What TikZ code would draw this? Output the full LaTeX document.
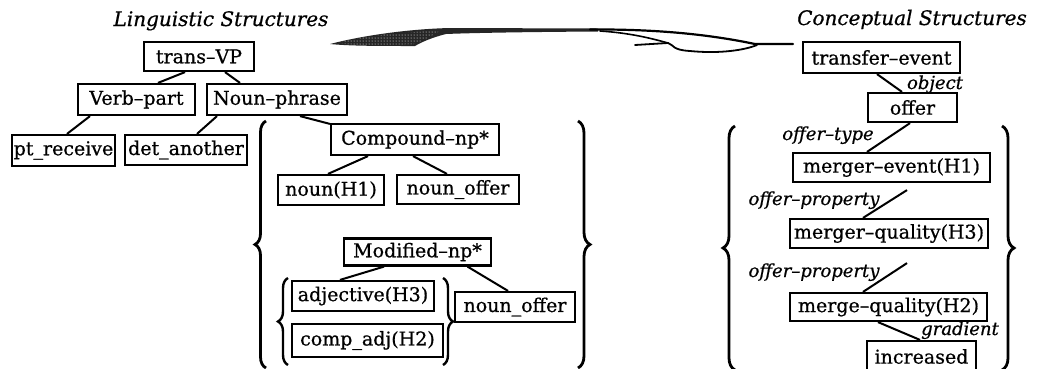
\documentclass[tikz,border=0pt]{standalone}
\usepackage{fontspec}
\setmainfont{DejaVu Serif}[FakeBold=0.7]
\usetikzlibrary{calc,decorations.pathreplacing,patterns}

\tikzset{
  box/.style={draw, line width=2.2pt, inner sep=0pt, anchor=center,
              font=\fontsize{19}{22}\selectfont},
  rel/.style={anchor=base, inner sep=0pt,
              font=\fontsize{18}{21}\selectfont\itshape},
  heading/.style={anchor=base, inner sep=0pt,
              font=\fontsize{20}{24}\selectfont\itshape},
  link/.style={line width=2pt},
  curly/.style={line width=2.8pt, decorate},
}

\begin{document}
\begin{tikzpicture}[x=1pt, y=-1pt]
  \fill[white] (0,0) rectangle (1041,368);
  \useasboundingbox (0,0) rectangle (1041,368);

  % headings
  \node[heading] (lingtitle) at (221,26) {Linguistic Structures};
  \node[heading] (conctitle) at (912,25) {Conceptual Structures};

  % swoosh arrow between the two structures
  \path[fill=black!85] (330,44) .. controls (365,35) and (410,29) .. (450,28)
        -- (598,28.5) -- (598,31.5) .. controls (520,32) and (470,33) .. (446,34)
        .. controls (430,38) and (420,43) .. (415,46)
        .. controls (380,46) and (350,46) .. (330,44) -- cycle;
  \path[pattern=dots, pattern color=white] (335,43) .. controls (365,36) and (400,32) .. (440,31)
        .. controls (430,37) and (420,42) .. (414,44)
        .. controls (380,45) and (350,45) .. (335,43) -- cycle;
  \draw[line width=2.2pt, line cap=round] (590,29.5) .. controls (660,29) and (712,35) .. (755,44) -- (793,44);
  \draw[line width=1.6pt, line cap=round] (600,31) .. controls (630,33) and (650,38) .. (668,43);
  \draw[line width=1.8pt, line cap=round] (635,45) -- (668,43)
        .. controls (674,45) and (672,50) .. (690,51)
        .. controls (720,54) and (745,50) .. (757,45);

  % linguistic structures
  \node[box, minimum width=110pt, minimum height=29pt] (tvp)  at (199,56.5)   {trans–VP};
  \node[box, minimum width=117pt, minimum height=31pt] (vp)   at (136.5,99.5) {Verb–part};
  \node[box, minimum width=140pt, minimum height=31pt] (np)   at (277,99.5)   {Noun–phrase};
  \node[box, minimum width=103pt, minimum height=31pt] (ptr)  at (63.5,150.5) {pt\_receive};
  \node[box, minimum width=122pt, minimum height=30pt] (det)  at (186,150)    {det\_another};
  \node[box, minimum width=168pt, minimum height=31pt] (cnp)  at (415,139.5)  {Compound–np*};
  \node[box, minimum width=106pt, minimum height=30pt] (nh1)  at (331,190)    {noun(H1)};
  \node[box, minimum width=122pt, minimum height=29pt] (no1)  at (458,189.5)  {noun\_offer};
  \node[box, minimum width=147pt, minimum height=27pt] (mnp)  at (417.5,252)  {Modified–np*};
  \node[box, minimum width=142pt, minimum height=30pt] (adj)  at (363,296)    {adjective(H3)};
  \node[box, minimum width=151pt, minimum height=33pt] (cadj) at (367.5,340.5) {comp\_adj(H2)};
  \node[box, minimum width=120pt, minimum height=30pt] (no2)  at (515,307)    {noun\_offer};

  \draw[link] ([xshift=-14pt]tvp.south) -- ([xshift=21.5pt]vp.north);
  \draw[link] ([xshift=26pt]tvp.south) -- ([xshift=-37pt]np.north);
  \draw[link] ([xshift=-46.5pt]vp.south) -- ([xshift=3.5pt]ptr.north);
  \draw[link] ([xshift=-60pt]np.south) -- ([xshift=11pt]det.north);
  \draw[link] ([xshift=23pt]np.south) -- ([yshift=-1pt]cnp.north west);
  \draw[link] ([xshift=-47pt]cnp.south) -- ([xshift=-3pt]nh1.north);
  \draw[link] ([xshift=-2pt]cnp.south) -- ([xshift=-11pt]no1.north);
  \draw[link] ([xshift=-33.5pt]mnp.south) -- ([xshift=-23pt]adj.north);
  \draw[link] ([xshift=50pt]mnp.south) -- ([xshift=-7pt]no2.north);

  % braces of the linguistic structures
  \coordinate (lbb) at (266,368);  \coordinate (lbt) at (266,121);
  \coordinate (rbt) at (578,121);  \coordinate (rbb) at (578,368);
  \draw[curly, decoration={brace, amplitude=11pt}] (lbb) -- (lbt);
  \draw[curly, decoration={brace, amplitude=12pt}] (rbt) -- (rbb);
  \coordinate (slb) at (288,365);  \coordinate (slt) at (288,278);
  \coordinate (srt) at (443,278);  \coordinate (srb) at (443,365);
  \draw[curly, line width=2.4pt, decoration={brace, amplitude=10pt}] (slb) -- (slt);
  \draw[curly, line width=2.4pt, decoration={brace, amplitude=10pt}] (srt) -- (srb);

  % conceptual structures
  \node[box, minimum width=157pt, minimum height=31pt] (te)  at (881.5,57.5)  {transfer–event};
  \node[box, minimum width=89pt,  minimum height=29pt] (off) at (912.5,107.5) {offer};
  \node[box, minimum width=197pt, minimum height=29pt] (me)  at (891.5,167.5) {merger–event(H1)};
  \node[box, minimum width=198pt, minimum height=29pt] (mq3) at (889,233.5)   {merger–quality(H3)};
  \node[box, minimum width=197pt, minimum height=28pt] (mq2) at (888.5,307)   {merge–quality(H2)};
  \node[box, minimum width=109pt, minimum height=31pt] (inc) at (921.5,356.5) {increased};

  \coordinate (p1) at ([xshift=15.5pt, yshift=-7pt]me.south);
  \coordinate (p2) at ([xshift=18pt, yshift=-14pt]mq3.south);

  \draw[link] ([xshift=-4.5pt]te.south) -- ([xshift=-10.5pt]off.north);
  \draw[link] ([xshift=-2.5pt]off.south) -- ([xshift=-24.5pt]me.north);
  \draw[link] (p1) -- ([xshift=-26pt]mq3.north);
  \draw[link] (p2) -- ([xshift=-25.5pt]mq2.north);
  \draw[link] ([xshift=-10.5pt]mq2.south) -- ([xshift=-1.5pt]inc.north);

  \node[rel] (lobj)  at (935,89)  {object};
  \node[rel] (ltype) at (828,140) {offer–type};
  \node[rel] (lp1)   at (814,205) {offer–property};
  \node[rel] (lp2)   at (814,277) {offer–property};
  \node[rel] (lgrad) at (960,335) {gradient};

  % braces of the conceptual structures
  \coordinate (clb) at (735,370);  \coordinate (clt) at (735,126);
  \coordinate (crt) at (1002,126); \coordinate (crb) at (1002,370);
  \draw[curly, decoration={brace, amplitude=12pt}] (clb) -- (clt);
  \draw[curly, decoration={brace, amplitude=12pt}] (crt) -- (crb);
\end{tikzpicture}
\end{document}
